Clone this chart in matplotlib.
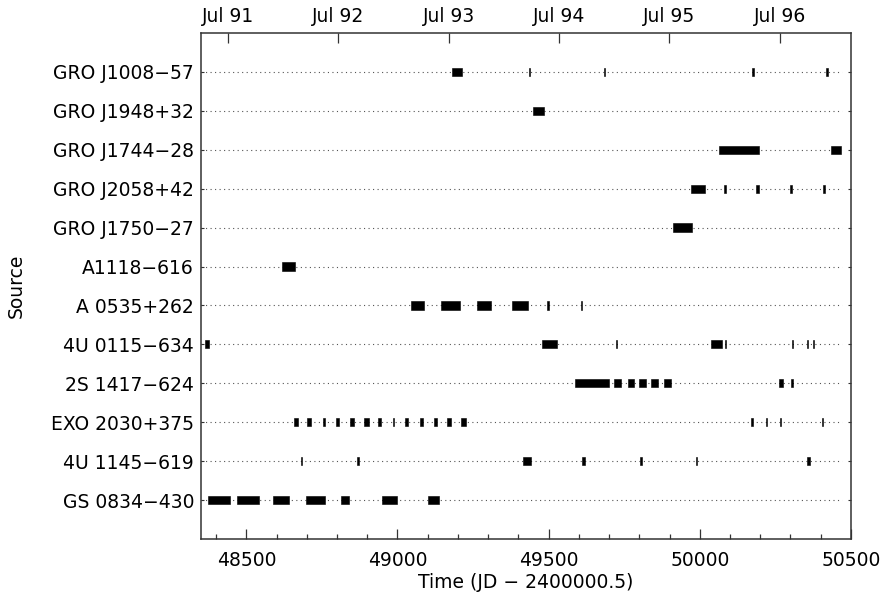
import matplotlib
matplotlib.use("Agg")
import matplotlib.pyplot as plt

plt.rcParams["font.family"] = "DejaVu Sans"
plt.rcParams["lines.scale_dashes"] = False

# source names, top to bottom
sources = ["GRO J1008\u221257", "GRO J1948+32", "GRO J1744\u221228", "GRO J2058+42",
           "GRO J1750\u221227", "A1118\u2212616", "A 0535+262", "4U 0115\u2212634",
           "2S 1417\u2212624", "EXO 2030+375", "4U 1145\u2212619", "GS 0834\u2212430"]

# observed intervals (start MJD, duration in days)
gro_j1008 = [(49179, 36), (49435, 5), (49684, 4), (50172, 8), (50418, 6)]
gro_j1948 = [(49447, 37)]
gro_j1744 = [(50064, 132), (50433, 34)]
gro_j2058 = [(49972, 45), (50079, 7), (50187, 8), (50297, 8), (50408, 6)]
gro_j1750 = [(49912, 61)]
a1118 = [(48617, 45)]
a0535 = [(49045, 43), (49144, 63), (49263, 46), (49379, 53), (49495, 7), (49606, 5)]
u0115 = [(48362, 13), (49478, 49), (49723, 4), (50037, 35), (50083, 5),
         (50304, 4), (50355, 3), (50376, 3)]
s1417 = [(49587, 114), (49716, 23), (49763, 20), (49800, 23), (49840, 22),
         (49881, 23), (50263, 11), (50303, 5)]
exo2030 = [(48659, 13), (48700, 13), (48753, 6), (48795, 13), (48844, 13),
           (48890, 15), (48937, 8), (48985, 5), (49025, 11), (49075, 8),
           (49120, 11), (49165, 11), (49211, 15), (50171, 6), (50218, 3),
           (50264, 6), (50405, 3)]
u1145 = [(48680, 3), (48866, 6), (49416, 26), (49611, 9), (49803, 5),
         (49989, 3), (50355, 9)]
gs0834 = [(48373, 72), (48469, 72), (48589, 53), (48697, 63), (48812, 29),
          (48950, 47), (49100, 37)]

obs = [gro_j1008, gro_j1948, gro_j1744, gro_j2058, gro_j1750, a1118,
       a0535, u0115, s1417, exo2030, u1145, gs0834]

# top axis: 1 July of each year (MJD)
jul_mjd = [48438, 48804, 49169, 49534, 49899, 50265]
jul_labels = ["Jul 91", "Jul 92", "Jul 93", "Jul 94", "Jul 95", "Jul 96"]

XMIN, XMAX = 48350, 50500
LINE_END = 50470

fig = plt.figure(figsize=(8.83, 5.98), dpi=100)
ax = fig.add_axes([0.2276, 0.0987, 0.7361, 0.8462])

n = len(sources)
for i, (name, segs) in enumerate(zip(sources, obs)):
    y = n - i
    ax.hlines(y, XMIN, LINE_END, colors="#555555", linewidth=0.8,
              linestyles=(0, (0.8, 2.45)), zorder=1)
    ax.broken_barh(segs, (y - 0.105, 0.21), facecolors="black",
                   edgecolor="black", linewidth=0.4, zorder=2)

ax.set_xlim(XMIN, XMAX)
ax.set_ylim(0, n + 1)
ax.set_yticks(range(n, 0, -1))
ax.set_yticklabels(sources)
ax.set_xticks([48500, 49000, 49500, 50000, 50500])
ax.set_xticks(range(48400, 50500, 100), minor=True)

ax.tick_params(axis="x", which="major", direction="in", length=7.2, width=0.9,
               labelsize=13.5, pad=9, top=False, color="#333333")
ax.tick_params(axis="x", which="minor", direction="in", length=3.6, width=0.9,
               top=False, color="#333333")
ax.tick_params(axis="y", which="major", direction="in", length=2.5, width=0.8,
               labelsize=13.5, pad=5, left=True, right=True, color="#333333")

for s in ax.spines.values():
    s.set_linewidth(1.1)
    s.set_color("#333333")

ax.set_xlabel("Time (JD \u2212 2400000.5)", fontsize=13.5, labelpad=2)
ax.set_ylabel("Source", fontsize=13.5, labelpad=18)

top = ax.twiny()
top.set_xlim(XMIN, XMAX)
top.set_xticks(jul_mjd)
top.set_xticklabels(jul_labels)
top.tick_params(axis="x", direction="in", length=7.2, width=0.9,
                labelsize=13.5, pad=5, color="#333333")
top.xaxis.set_minor_locator(matplotlib.ticker.NullLocator())
for s in top.spines.values():
    s.set_visible(False)

fig.savefig("out.png", dpi=100)
